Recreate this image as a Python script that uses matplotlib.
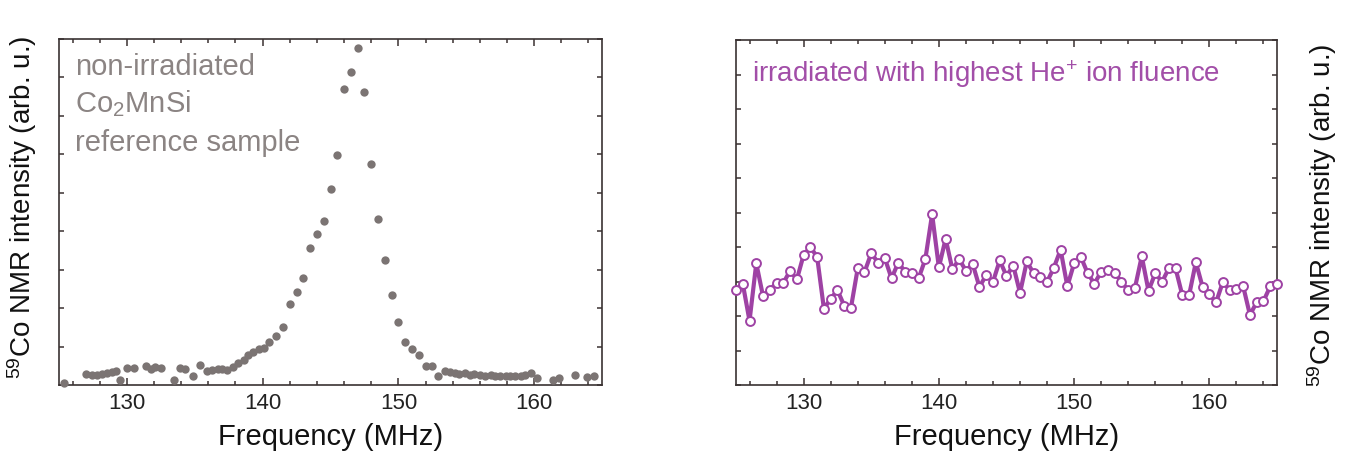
import matplotlib
matplotlib.use("Agg")
import matplotlib.pyplot as plt
from matplotlib.ticker import MultipleLocator, NullFormatter

plt.rcParams['font.family'] = ['Liberation Sans', 'DejaVu Sans']
plt.rcParams['mathtext.fontset'] = 'custom'
plt.rcParams['mathtext.rm'] = 'Liberation Sans'
plt.rcParams['mathtext.it'] = 'Liberation Sans:italic'
plt.rcParams['mathtext.bf'] = 'Liberation Sans:bold'

# ---- data: non-irradiated reference sample (left) ----
ref_freq = [125.4, 127.0, 127.4, 127.8, 128.2, 128.5, 128.9, 129.2, 129.5, 130.0,
            130.5, 131.4, 131.8, 132.1, 132.5, 133.5, 133.9, 134.3, 134.9, 135.4,
            135.9, 136.3, 136.7, 137.0, 137.4, 137.8, 138.2, 138.6, 138.9, 139.3,
            139.7, 140.1, 140.5, 141.0, 141.5, 142.0, 142.5, 143.0, 143.5, 144.0,
            144.5, 145.0, 145.5, 146.0, 146.5, 147.0, 147.5, 148.0, 148.5, 149.0,
            149.5, 150.0, 150.5, 151.0, 151.5, 152.0, 152.5, 152.9, 153.4, 153.8,
            154.2, 154.5, 154.9, 155.3, 155.6, 156.0, 156.4, 156.8, 157.1, 157.5,
            157.9, 158.2, 158.6, 159.0, 159.3, 159.8, 160.2, 161.4, 161.8, 163.0,
            163.9, 164.4]
ref_int = [0.06, 0.29, 0.27, 0.27, 0.28, 0.30, 0.33, 0.36, 0.12, 0.45,
           0.45, 0.49, 0.42, 0.46, 0.45, 0.14, 0.45, 0.42, 0.24, 0.52,
           0.37, 0.38, 0.42, 0.42, 0.38, 0.48, 0.58, 0.65, 0.78, 0.87,
           0.93, 0.96, 1.13, 1.28, 1.52, 2.11, 2.43, 2.78, 3.57, 3.93,
           4.26, 5.11, 5.97, 7.71, 8.13, 8.76, 7.61, 5.74, 4.33, 3.24,
           2.33, 1.63, 1.13, 0.93, 0.78, 0.50, 0.50, 0.23, 0.37, 0.35,
           0.32, 0.28, 0.30, 0.26, 0.28, 0.26, 0.23, 0.26, 0.23, 0.23,
           0.23, 0.23, 0.23, 0.23, 0.26, 0.32, 0.17, 0.14, 0.17, 0.26,
           0.22, 0.23]

# ---- data: irradiated sample (right), 0.5 MHz steps from 125 to 165 ----
irr_freq = [125.0 + 0.5 * i for i in range(81)]
irr_int = [2.75, 2.94, 1.86, 3.53, 2.57, 2.76, 2.96, 2.96, 3.31, 3.06,
           3.77, 4.00, 3.71, 2.21, 2.50, 2.75, 2.30, 2.24, 3.38, 3.27,
           3.82, 3.55, 3.68, 3.09, 3.55, 3.28, 3.24, 3.09, 3.65, 4.95,
           3.41, 4.24, 3.35, 3.65, 3.31, 3.51, 2.84, 3.19, 2.99, 3.61,
           3.16, 3.46, 2.67, 3.58, 3.24, 3.12, 2.99, 3.40, 3.92, 2.86,
           3.53, 3.71, 3.24, 2.94, 3.28, 3.33, 3.25, 2.99, 2.75, 2.82,
           3.73, 2.73, 3.24, 2.99, 3.38, 3.38, 2.60, 2.60, 3.56, 2.84,
           2.63, 2.40, 2.99, 2.75, 2.79, 2.86, 2.03, 2.40, 2.43, 2.86,
           2.94]

xticks = [130, 140, 150, 160]
xlabel = "Frequency (MHz)"
ylabel = r"$^{59}$Co NMR intensity (arb. u.)"

spine_col = '#3a3232'
gray_pt = '#7b7473'
gray_txt = '#8b8483'
purple = '#9e42a4'
purple_txt = '#a24ea8'

W, H = 1346, 459
fig = plt.figure(figsize=(W / 100, H / 100), dpi=100)

def px_axes(l, t, r, b):
    return fig.add_axes([l / W, 1 - b / H, (r - l) / W, (b - t) / H])

axL = px_axes(59, 39, 602, 385)
axR = px_axes(736, 40, 1277, 385)

def style(ax, ymax):
    ax.set_xlim(125, 165)
    ax.set_ylim(0, ymax)
    ax.set_xticks(xticks)
    ax.xaxis.set_minor_locator(MultipleLocator(2))
    ax.yaxis.set_major_locator(MultipleLocator(1))
    ax.yaxis.set_major_formatter(NullFormatter())
    for s in ax.spines.values():
        s.set_color(spine_col)
        s.set_linewidth(1.2)
    ax.tick_params(axis='both', which='both', direction='in', top=True, right=True,
                   color=spine_col, width=1.1)
    ax.tick_params(axis='x', which='major', length=5, labelsize=16, pad=6,
                   labelcolor='#222222')
    ax.tick_params(axis='x', which='minor', length=3)
    ax.tick_params(axis='y', which='major', length=3.5)
    ax.set_xlabel(xlabel, fontsize=21, labelpad=6, color='#111111')

style(axL, 9)
style(axR, 10)

axL.plot(ref_freq, ref_int, linestyle='none', marker='o', markersize=6.0,
         color=gray_pt, markeredgewidth=0, clip_on=False, zorder=3)

axR.plot(irr_freq, irr_int, color=purple, linewidth=3.0, marker='o',
         markersize=6.4, markerfacecolor='white', markeredgecolor=purple,
         markeredgewidth=1.4, clip_on=False, zorder=3)

axL.text(0.029, 0.896, "non-irradiated", transform=axL.transAxes,
         fontsize=21, color=gray_txt, va='baseline', ha='left')
axL.text(0.029, 0.789, r"Co$_{\mathregular{2}}$MnSi", transform=axL.transAxes,
         fontsize=21, color=gray_txt, va='baseline', ha='left')
axL.text(0.029, 0.676, "reference sample", transform=axL.transAxes,
         fontsize=21, color=gray_txt, va='baseline', ha='left')

axR.text(0.030, 0.878, r"irradiated with highest He$^{+}$ ion fluence",
         transform=axR.transAxes, fontsize=20, color=purple_txt,
         va='baseline', ha='left')

fig.text(22 / W, 1 - 207 / H, ylabel, rotation=90, ha='center', va='center',
         fontsize=20, color='#111111')
fig.text(1322 / W, 1 - 215 / H, ylabel, rotation=90, ha='center', va='center',
         fontsize=20, color='#111111')

fig.savefig("out.png", dpi=100, facecolor='white')
